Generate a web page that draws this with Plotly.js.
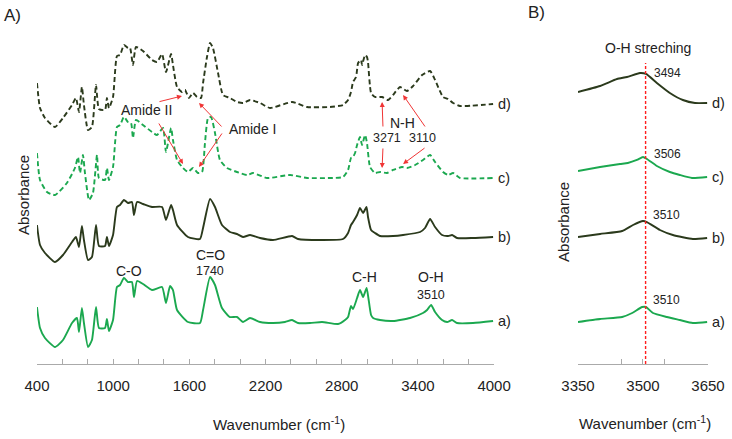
<!DOCTYPE html>
<html><head><meta charset="utf-8">
<script src="https://cdn.plot.ly/plotly-3.0.1.min.js"></script>
<style>html,body{margin:0;padding:0;background:#fff}#chart{width:732px;height:439px}</style>
</head><body><div id="chart"></div>
<script>
// ---- Panel A: full spectra (offset absorbance, arbitrary units) ----
const specA_x = [400,424,463,542,605,676,715,731,754,770,802,833,865,888,936,951,967,999,1030,1054,1085,1117,1148,1164,1188,1235,1306,1385,1416,1448,1471,1503,1589,1684,1708,1763,1802,1857,1920,1975,2023,2078,2157,2259,2353,2409,2456,2550,2645,2771,2826,2850,2873,2889,2921,2944,2968,2996,3010,3031,3047,3102,3204,3338,3440,3472,3504,3535,3590,3630,3669,3708,3834,3992];
const specA_y = [0.57,0.36,0.26,0.17,0.24,0.41,0.46,0.32,0.56,0.41,0.17,0.24,0.57,0.36,0.36,0.45,0.33,0.44,0.77,0.79,0.86,0.82,0.82,0.67,0.83,0.80,0.74,0.77,0.61,0.78,0.74,0.54,0.42,0.41,0.54,0.87,0.79,0.56,0.47,0.47,0.42,0.46,0.42,0.41,0.42,0.44,0.41,0.41,0.42,0.40,0.44,0.47,0.58,0.55,0.66,0.74,0.67,0.76,0.66,0.49,0.46,0.44,0.43,0.46,0.51,0.54,0.59,0.52,0.44,0.42,0.44,0.41,0.41,0.43];

const specB_x = [400,424,463,542,605,676,707,731,754,770,802,833,865,888,936,951,967,999,1030,1054,1085,1117,1148,1164,1188,1235,1306,1385,1416,1456,1471,1503,1589,1684,1708,1763,1802,1857,1920,1975,2023,2078,2157,2259,2409,2456,2645,2810,2850,2873,2889,2921,2944,2968,2995,3007,3031,3062,3102,3204,3283,3417,3456,3496,3535,3590,3638,3669,3708,3834,3992];
const specB_y = [1.39,1.19,1.11,1.02,1.09,1.22,1.27,1.17,1.38,1.24,1.04,1.07,1.39,1.18,1.18,1.27,1.18,1.29,1.57,1.59,1.64,1.61,1.62,1.49,1.62,1.60,1.57,1.57,1.44,1.59,1.54,1.39,1.27,1.25,1.36,1.65,1.57,1.39,1.32,1.30,1.27,1.29,1.26,1.24,1.28,1.25,1.24,1.25,1.31,1.39,1.42,1.49,1.56,1.51,1.57,1.47,1.34,1.31,1.28,1.28,1.29,1.32,1.36,1.45,1.37,1.29,1.28,1.29,1.26,1.26,1.27];

const specC_x = [400,424,479,542,636,699,723,739,762,778,810,841,873,888,936,951,967,999,1030,1054,1085,1117,1141,1156,1180,1235,1306,1345,1393,1416,1456,1471,1503,1550,1589,1629,1668,1700,1723,1747,1771,1802,1841,1897,1975,2054,2101,2212,2393,2527,2708,2810,2850,2873,2889,2905,2921,2944,2960,2984,2999,3023,3062,3102,3157,3204,3275,3314,3378,3440,3496,3535,3598,3638,3677,3732,3992];
const specC_y = [2.11,1.84,1.72,1.69,1.81,1.96,2.07,1.91,2.09,1.91,1.64,1.71,2.09,1.86,1.84,1.96,1.84,1.97,2.37,2.39,2.47,2.42,2.41,2.26,2.44,2.39,2.32,2.29,2.36,2.12,2.36,2.24,2.04,1.96,1.92,1.96,1.91,1.92,2.21,2.46,2.47,2.31,2.04,1.96,1.92,1.89,1.91,1.86,1.89,1.86,1.86,1.87,1.94,2.06,2.07,2.11,2.19,2.27,2.19,2.29,2.21,1.97,1.91,1.92,1.91,1.94,1.97,1.96,1.99,2.04,2.09,2.02,1.92,1.89,1.91,1.86,1.86];

const specD_x = [400,424,463,542,605,676,707,731,754,770,802,833,865,888,936,951,967,999,1030,1054,1085,1117,1133,1156,1180,1235,1306,1345,1385,1416,1456,1471,1503,1542,1566,1597,1629,1660,1692,1708,1739,1763,1786,1826,1865,1920,1975,2023,2078,2157,2235,2409,2527,2708,2810,2850,2873,2889,2913,2929,2952,2960,2984,2999,3007,3031,3062,3118,3165,3204,3259,3314,3362,3433,3496,3535,3598,3638,3677,3732,3992];
const specD_y = [2.81,2.56,2.46,2.37,2.46,2.59,2.66,2.52,2.77,2.59,2.34,2.37,2.79,2.55,2.54,2.66,2.56,2.67,3.08,3.09,3.19,3.16,3.16,2.99,3.17,3.13,3.04,3.02,3.10,2.92,3.10,2.99,2.77,2.72,2.74,2.66,2.71,2.67,2.66,2.81,3.07,3.21,3.16,2.91,2.69,2.66,2.62,2.61,2.64,2.61,2.56,2.62,2.57,2.57,2.59,2.64,2.72,2.82,2.87,3.01,3.04,2.99,3.09,3.07,3.02,2.71,2.67,2.67,2.64,2.69,2.77,2.73,2.78,2.89,2.93,2.84,2.67,2.65,2.61,2.58,2.60];

// ---- Panel B: O-H stretching zoom ----
const ohA_x = [3350,3401,3452,3475,3498,3507,3523,3555,3585,3615,3648];
const ohA_y = [0.42,0.45,0.47,0.51,0.57,0.57,0.51,0.47,0.44,0.41,0.42];
const ohB_x = [3350,3401,3452,3477,3500,3509,3539,3569,3615,3648];
const ohB_y = [1.27,1.30,1.33,1.39,1.43,1.42,1.34,1.29,1.25,1.26];
const ohC_x = [3350,3401,3447,3465,3486,3500,3509,3532,3562,3585,3613,3648];
const ohC_y = [1.93,1.97,2.00,2.01,2.04,2.07,2.05,1.98,1.92,1.89,1.86,1.87];
const ohD_x = [3350,3401,3440,3463,3493,3507,3532,3562,3592,3620,3648];
const ohD_y = [2.72,2.78,2.85,2.87,2.91,2.90,2.81,2.71,2.64,2.61,2.61];

const seriesLabels = ['a)','b)','c)','d)'];
const leftTicks = [400,1000,1600,2200,2800,3400,4000];
const rightTicks = [3350,3500,3650];
const rightMinor = [3450,3550];
const ohLine = 3506;
const ohLineTop = 3.01;

const GREEN = '#1ba84f', DARK = '#2b3a1c', RED = '#f03535', TXT = '#222';
const FONT = 'Liberation Sans, Arial, sans-serif';

function tr(x, y, color, dash, xa, ya, w) {
  return {x: x, y: y, xaxis: xa, yaxis: ya, type: 'scatter', mode: 'lines',
    line: {color: color, width: w || 1.9, dash: dash, shape: 'spline', smoothing: 0.5},
    hoverinfo: 'skip', showlegend: false};
}
const traces = [
  tr(specA_x, specA_y, GREEN, 'solid', 'x', 'y'),
  tr(specB_x, specB_y, DARK, 'solid', 'x', 'y'),
  tr(specC_x, specC_y, GREEN, '5px,3px', 'x', 'y'),
  tr(specD_x, specD_y, DARK, '5px,3px', 'x', 'y'),
  tr(ohA_x, ohA_y, GREEN, 'solid', 'x2', 'y2'),
  tr(ohB_x, ohB_y, DARK, 'solid', 'x2', 'y2'),
  tr(ohC_x, ohC_y, GREEN, 'solid', 'x2', 'y2'),
  tr(ohD_x, ohD_y, DARK, 'solid', 'x2', 'y2'),
  {x: [ohLine, ohLine], y: [0, ohLineTop], xaxis: 'x2', yaxis: 'y2', type: 'scatter', mode: 'lines',
   line: {color: '#ff1e1e', width: 1.4, dash: '3px,2px'}, hoverinfo: 'skip', showlegend: false, cliponaxis: false}
];

const ann = [];
function txt(x, y, t, size, xref, yref, extra) {
  ann.push(Object.assign({x: x, y: y, xref: xref, yref: yref, text: t, showarrow: false,
    xanchor: 'center', yanchor: 'middle',
    font: {family: FONT, size: size, color: TXT}}, extra || {}));
}
function arrow(ax, ay, x, y) {
  ann.push({x: x, y: y, ax: ax, ay: ay, xref: 'x', yref: 'y', axref: 'x', ayref: 'y',
    text: '', showarrow: true, arrowhead: 2, arrowsize: 1, arrowwidth: 1, arrowcolor: RED, standoff: 0});
}
// series labels, panel A & B (x in paper units just right of each panel)
const lastA = [specA_y, specB_y, specC_y, specD_y].map(a => a[a.length - 1]);
const lastB = [ohA_y, ohB_y, ohC_y, ohD_y].map(a => a[a.length - 1]);
seriesLabels.forEach((s, i) => {
  txt(0.678, lastA[i], s, 14.5, 'paper', 'y', {xanchor: 'left'});
  txt(0.970, lastB[i], s, 14.5, 'paper', 'y2', {xanchor: 'left'});
});
// band labels
txt(1266, 2.54, 'Amide II', 14, 'x', 'y');
txt(2094, 2.35, 'Amide I', 14, 'x', 'y');
arrow(1353, 2.62, 1542, 2.68);
arrow(1353, 2.42, 1550, 2.00);
arrow(1865, 2.36, 1676, 2.61);
arrow(1865, 2.32, 1676, 1.97);
txt(3275, 2.41, 'N-H', 14, 'x', 'y');
txt(3157, 2.26, '3271', 12.5, 'x', 'y');
txt(3440, 2.26, '3110', 12.5, 'x', 'y');
arrow(3125, 2.36, 3118, 2.62);
arrow(3125, 2.17, 3118, 1.96);
arrow(3464, 2.36, 3283, 2.69);
arrow(3464, 2.17, 3283, 2.00);
txt(1125, 0.93, 'C-O', 14, 'x', 'y');
txt(1763, 1.09, 'C=O', 14, 'x', 'y');
txt(1763, 0.93, '1740', 12.5, 'x', 'y');
txt(2976, 0.87, 'C-H', 14, 'x', 'y');
txt(3504, 0.87, 'O-H', 14, 'x', 'y');
txt(3504, 0.69, '3510', 12.5, 'x', 'y');
// panel B labels
txt(3511, 3.16, 'O-H streching', 14, 'x2', 'y2');
txt(3520, 2.91, '3494', 12, 'x2', 'y2', {xanchor: 'left'});
txt(3520, 2.10, '3506', 12, 'x2', 'y2', {xanchor: 'left'});
txt(3518, 1.49, '3510', 12, 'x2', 'y2', {xanchor: 'left'});
txt(3518, 0.64, '3510', 12, 'x2', 'y2', {xanchor: 'left'});
// panel titles and axis titles
txt(0.0164, 0.9658, 'A)', 17, 'paper', 'paper');
txt(0.7336, 0.9704, 'B)', 17, 'paper', 'paper');
txt(0.0314, 0.5558, 'Absorbance', 15, 'paper', 'paper', {textangle: -90});
txt(0.769, 0.4943, 'Absorbance', 15, 'paper', 'paper', {textangle: -90});
txt(0.381, 0.0364, 'Wavenumber (cm<sup>-1</sup>)', 15, 'paper', 'paper');
txt(0.881, 0.0387, 'Wavenumber (cm<sup>-1</sup>)', 15, 'paper', 'paper');

const axBase = {showgrid: false, zeroline: false, showline: true, linecolor: '#aaa', linewidth: 1,
  ticks: 'inside', ticklen: 5, tickcolor: '#aaa', tickfont: {family: FONT, size: 15, color: TXT},
  ticklabelstandoff: 8};
const layout = {
  width: 732, height: 439, margin: {l: 0, r: 0, t: 0, b: 0},
  paper_bgcolor: '#fff', plot_bgcolor: 'rgba(0,0,0,0)', showlegend: false,
  font: {family: FONT, color: TXT},
  xaxis: Object.assign({}, axBase, {domain: [0.0505, 0.675], range: [400, 4000],
    tickmode: 'array', tickvals: leftTicks, ticktext: leftTicks.map(String),
    minor: {dtick: 200, tick0: 400, ticks: 'inside', ticklen: 5, tickcolor: '#aaa'}}),
  yaxis: {domain: [0.1708, 0.9317], range: [0, 3.34], visible: false, fixedrange: true},
  xaxis2: Object.assign({}, axBase, {domain: [0.7896, 0.9672], range: [3350, 3650], anchor: 'y2',
    tickmode: 'array', tickvals: rightTicks, ticktext: rightTicks.map(String),
    minor: {tickmode: 'array', tickvals: rightMinor, ticks: 'inside', ticklen: 5, tickcolor: '#aaa'}}),
  yaxis2: {domain: [0.1708, 0.9317], range: [0, 3.34], visible: false, anchor: 'x2'},
  annotations: ann
};
Plotly.newPlot('chart', traces, layout, {staticPlot: true, displayModeBar: false});
</script></body></html>
